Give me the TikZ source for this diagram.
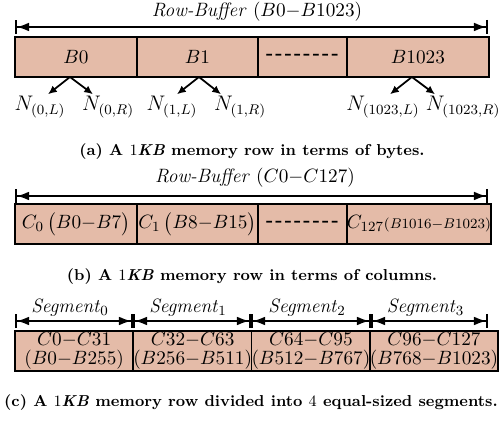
\documentclass[tikz,border=0pt]{standalone}
\usepackage{amsmath}
\usepackage{amssymb}
\usepackage{xcolor}
\usepackage{tikz}
\usetikzlibrary{arrows.meta,positioning,calc}

% hyphens used as a "more cells" filler
\newcommand{\dashrow}{\textbf{-\kern1.2pt-\kern1.2pt-\kern1.2pt-\kern1.2pt-\kern1.2pt-\kern1.2pt-\kern1.2pt-}}

\begin{document}
\begin{tikzpicture}[x=0.02cm,y=-0.02cm]
	% colours
	\definecolor{cellfill}{RGB}{228,187,168}
	\tikzset{
		cell/.style={draw,line width=1.1pt,fill=cellfill,minimum height=0.8cm,
			inner sep=0pt,outer sep=0pt,font=\fontsize{11}{13}\selectfont},
		span/.style={line width=1pt,
			{Bar[width=8pt]Latex[length=7pt,width=5pt]}-{Latex[length=7pt,width=5pt]Bar[width=8pt]}},
		split/.style={line width=1pt,-{Latex[length=5pt,width=4.5pt]}},
		title/.style={font=\fontsize{11}{13}\selectfont,inner sep=1pt},
		nlbl/.style={font=\fontsize{11.5}{13}\selectfont,inner sep=1pt},
		capt/.style={font=\fontsize{9}{11}\selectfont\bfseries,inner sep=1pt}
	}
	\useasboundingbox (0,0) rectangle (500,421);
	
	% (a) the row as bytes
	\node[title] (ttla) at (257,12) {\textit{Row-Buffer} $(B0{-}B1023)$};
	\coordinate (la) at (15,27);
	\coordinate (ra) at (488,27);
	\draw[span] (la) -- (ra);
	
	\node[cell,minimum width=2.44cm,anchor=north west] (b0) at (15,37) {$B0$};
	\node[cell,minimum width=2.42cm,right=0pt of b0] (b1) {$B1$};
	\node[cell,minimum width=1.78cm,right=0pt of b1] (bdots) {\dashrow};
	\node[cell,minimum width=2.84cm,right=0pt of bdots] (b1023) {$B1023$};
	
	\node[nlbl] (n0l) at (40,107) {$N_{(0,L)}$};
	\node[nlbl] (n0r) at (108,107) {$N_{(0,R)}$};
	\node[nlbl] (n1l) at (172,107) {$N_{(1,L)}$};
	\node[nlbl] (n1r) at (240,107) {$N_{(1,R)}$};
	\node[nlbl] (n1023l) at (383,107) {$N_{(1023,L)}$};
	\node[nlbl] (n1023r) at (463,107) {$N_{(1023,R)}$};
	
	\draw[split] ([xshift=-0.12cm]b0.south) -- ([xshift=0.16cm]n0l.north);
	\draw[split] ([xshift=-0.12cm]b0.south) -- ([xshift=-0.3cm]n0r.north);
	\draw[split] ([xshift=0.03cm]b1.south) -- ([xshift=0.1cm]n1l.north);
	\draw[split] ([xshift=0.03cm]b1.south) -- ([xshift=-0.38cm]n1r.north);
	\draw[split] ([xshift=-0.12cm]b1023.south) -- ([xshift=0.14cm]n1023l.north);
	\draw[split] ([xshift=-0.12cm]b1023.south) -- ([xshift=-0.56cm]n1023r.north);
	
	\node[capt] (capa) at (252,152) {(a) A $1$\textit{KB} memory row in terms of bytes.};
	
	% (b) the row as columns
	\node[title] (ttlb) at (255,178) {\textit{Row-Buffer} $(C0{-}C127)$};
	\coordinate (lb) at (15,196);
	\coordinate (rb) at (488,196);
	\draw[span] (lb) -- (rb);
	
	\node[cell,minimum width=2.44cm,anchor=north west] (c0) at (15,204) {$C_0\,\big(B0{-}B7\big)$};
	\node[cell,minimum width=2.42cm,right=0pt of c0] (c1) {$C_1\,\big(B8{-}B15\big)$};
	\node[cell,minimum width=1.78cm,right=0pt of c1] (cdots) {\dashrow};
	\node[cell,minimum width=2.82cm,right=0pt of cdots] (c127) {$C_{127}$\fontsize{8.5}{10}\selectfont$(B1016{-}B1023)$};
	
	\node[capt] (capb) at (252,277) {(b) A $1$\textit{KB} memory row in terms of columns.};
	
	% (c) the row split into segments
	\foreach \i/\xa/\xb in {0/15/133,1/133/251,2/251/371,3/371/488}{
		\coordinate (sl\i) at (\xa,321);
		\coordinate (sr\i) at (\xb,321);
		\draw[span] (sl\i) -- (sr\i);
		\node[title] (seg\i) at ($(sl\i)!0.5!(sr\i)+(-4,-13)$) {\textit{Segment}$_{\i}$};
	}
	
	\foreach \i/\ca/\cb/\ba/\bb in {0/0/31/0/255,1/32/63/256/511,2/64/95/512/767,3/96/127/768/1023}
	\node[cell,minimum width=2.365cm,anchor=north west,align=center,
		font=\fontsize{10.5}{11}\selectfont] (s\i) at (15+\i*118.25,331)
		{$C\ca{-}C\cb$\\$(B\ba{-}B\bb)$};
	
	\node[capt] (capc) at (251,403) {(c) A $1$\textit{KB} memory row divided into $4$ equal-sized segments.};
	
\end{tikzpicture}
\end{document}
